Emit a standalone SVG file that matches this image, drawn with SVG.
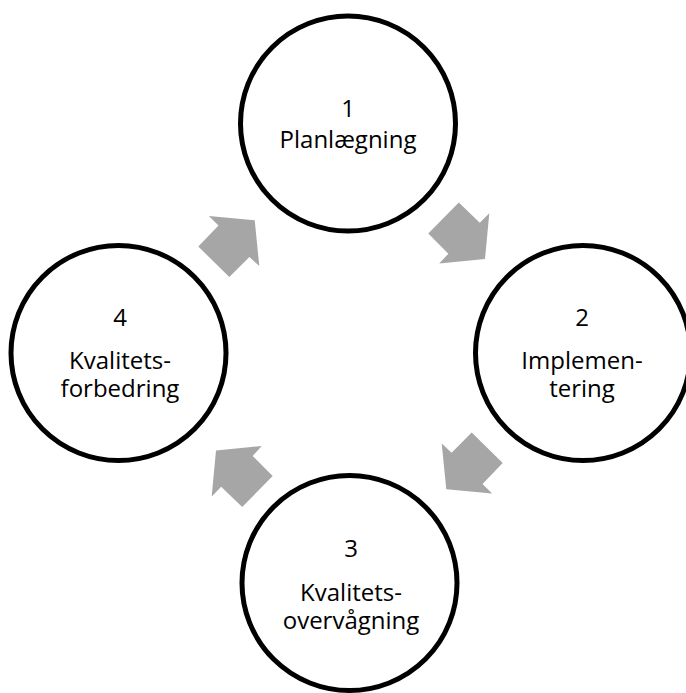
<svg xmlns="http://www.w3.org/2000/svg" xmlns:xlink="http://www.w3.org/1999/xlink" width="686" height="693" viewBox="0 0 686 693">
  <style>
    .node circle { fill: #ffffff; stroke: #000000; stroke-width: 5; }
    .node text { font-family: "Open Sans", "Noto Sans", "Liberation Sans", sans-serif; font-size: 24px; fill: #000000; text-anchor: middle; }
    .arrow { fill: #a6a6a6; stroke: none; }
  </style>
  <defs>
    <polygon id="blockArrow" class="arrow" points="428.3,233.6 458.8,202.6 479.8,222.8 489.3,213.2 485,259 439.2,263.6 448.4,253.7"/>
  </defs>
  <rect x="0" y="0" width="686" height="693" fill="#ffffff"/>
  <g id="connectors">
    <use xlink:href="#blockArrow" href="#blockArrow"/>
    <use xlink:href="#blockArrow" href="#blockArrow" transform="rotate(90 350.5 354.8)"/>
    <use xlink:href="#blockArrow" href="#blockArrow" transform="rotate(180 350.5 354.8)"/>
    <use xlink:href="#blockArrow" href="#blockArrow" transform="rotate(270 350.5 354.8)"/>
  </g>
  <g id="node1" class="node">
    <circle cx="348" cy="123.5" r="107.5"/>
    <text x="348" y="117">1</text>
    <text x="348" y="148">Planlægning</text>
  </g>
  <g id="node2" class="node">
    <circle cx="583" cy="353" r="107.5"/>
    <text x="582" y="326">2</text>
    <text x="582" y="369">Implemen-</text>
    <text x="582" y="397">tering</text>
  </g>
  <g id="node3" class="node">
    <circle cx="349.5" cy="583" r="107.5"/>
    <text x="351" y="557">3</text>
    <text x="351" y="601">Kvalitets-</text>
    <text x="351" y="629">overvågning</text>
  </g>
  <g id="node4" class="node">
    <circle cx="118.5" cy="353" r="107.5"/>
    <text x="120" y="326">4</text>
    <text x="120" y="369">Kvalitets-</text>
    <text x="120" y="397">forbedring</text>
  </g>
</svg>
